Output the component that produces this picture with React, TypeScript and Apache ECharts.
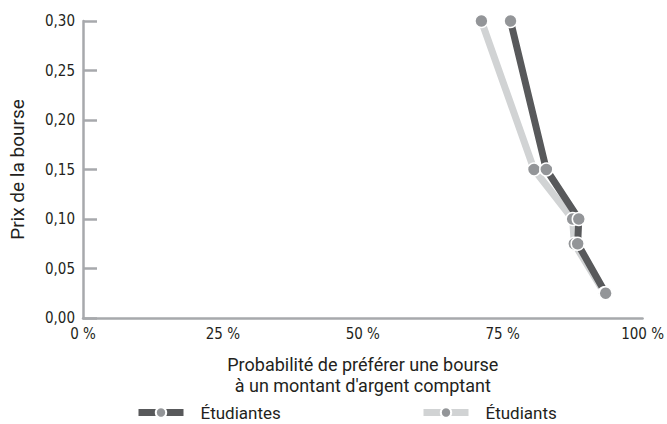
import React, { useEffect, useRef } from "react";
import * as echarts from "echarts";

const prices = [0.3, 0.15, 0.1, 0.075, 0.025];
const etudiantes = [76.4, 82.8, 88.6, 88.4, 93.4];
const etudiants = [71.2, 80.6, 87.5, 87.8, 93.2];
const seriesNames = ["Étudiantes", "Étudiants"];
const xTitle = "Probabilité de préférer une bourse\nà un montant d'argent comptant";
const yTitle = "Prix de la bourse";

const FONT = "'Liberation Sans Narrow', 'DejaVu Sans Condensed', 'Roboto', sans-serif";
const FONT2 = "'Roboto', 'Liberation Sans', sans-serif";
const TXT = "#231f20";
const AXIS = "#a7a9ac";
const DARK = "#58595b";
const LIGHT = "#d1d3d4";
const MARK = "#939598";

export default function App() {
  const ref = useRef<HTMLDivElement>(null);
  useEffect(() => {
    const chart = echarts.init(ref.current!, null, { renderer: "svg" });
    const mk = (vals: number[]) => vals.map((v, i) => [v, prices[i]]);
    const legendCommon = {
      top: 399,
      itemWidth: 45,
      itemHeight: 13,
      itemGap: 10,
      lineStyle: { width: 7 },
      textStyle: { color: TXT, fontSize: 17, fontFamily: FONT2, padding: [0, 0, 0, 12] },
    };
    chart.setOption({
      animation: false,
      textStyle: { fontFamily: FONT },
      grid: { left: 80, right: 24, top: 21, bottom: 106 },
      xAxis: {
        type: "value",
        min: 0,
        max: 100,
        interval: 25,
        axisLine: { lineStyle: { color: AXIS, width: 2.5 } },
        axisTick: { show: false },
        splitLine: { show: false },
        axisLabel: {
          formatter: (v: number) => v + " %",
          color: TXT,
          fontSize: 15,
          fontFamily: FONT,
          margin: 8,
        },
        name: xTitle,
        nameLocation: "middle",
        nameGap: 36,
        nameTextStyle: { color: TXT, fontSize: 18, lineHeight: 21, fontFamily: FONT2 },
      },
      yAxis: {
        type: "value",
        min: 0,
        max: 0.3,
        interval: 0.05,
        axisLine: { show: true, lineStyle: { color: AXIS, width: 2.5 } },
        axisTick: { show: true, inside: true, length: 14, lineStyle: { color: AXIS, width: 2.5 } },
        splitLine: { show: false },
        axisLabel: {
          formatter: (v: number) => v.toFixed(2).replace(".", ","),
          color: TXT,
          fontSize: 15,
          fontFamily: FONT,
          margin: 8,
        },
        name: yTitle,
        nameLocation: "middle",
        nameGap: 56,
        nameTextStyle: { color: TXT, fontSize: 19, fontFamily: FONT2 },
      },
      legend: [
        { ...legendCommon, data: [seriesNames[0]], left: 130 },
        { ...legendCommon, data: [seriesNames[1]], left: 415 },
      ],
      series: [
        {
          name: seriesNames[1],
          type: "line",
          data: mk(etudiants),
          symbol: "circle",
          symbolSize: 13,
          lineStyle: { color: LIGHT, width: 7 },
          itemStyle: { color: MARK, borderColor: "#fff", borderWidth: 1.5 },
          color: LIGHT,
        },
        {
          name: seriesNames[0],
          type: "line",
          data: mk(etudiantes),
          symbol: "circle",
          symbolSize: 13,
          lineStyle: { color: DARK, width: 7 },
          itemStyle: { color: MARK, borderColor: "#fff", borderWidth: 1.5 },
          color: DARK,
        },
      ],
    });
    return () => chart.dispose();
  }, []);
  return <div ref={ref} style={{ width: 667, height: 424, position: "absolute", left: 0, top: 0 }} />;
}
